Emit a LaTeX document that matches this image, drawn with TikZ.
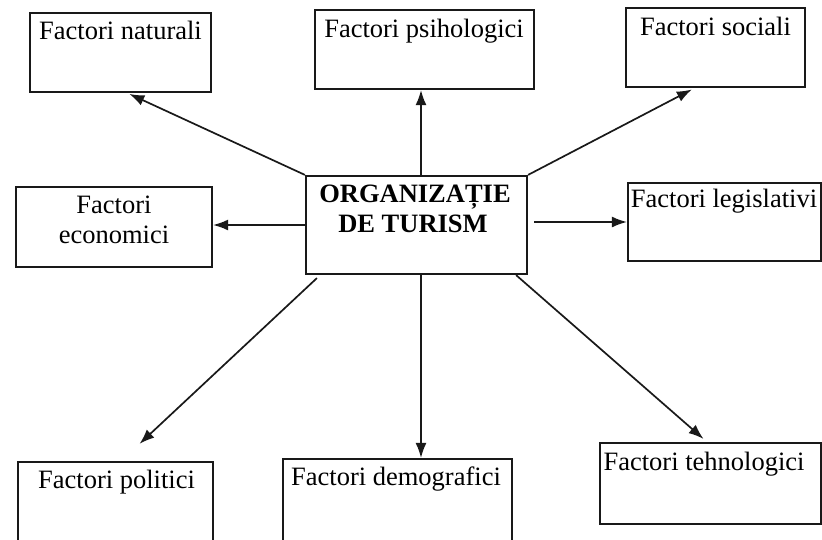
\documentclass[tikz,border=0pt]{standalone}
\usepackage{fontspec}
\setmainfont{Liberation Serif}
\usetikzlibrary{arrows.meta}
\begin{document}
\begin{tikzpicture}[x=1pt,y=-1pt,
  fbox/.style={draw=black!90, line width=2.2pt, rectangle, inner sep=0pt},
  lbl/.style={inner sep=0pt, anchor=base, font=\fontsize{26.5}{30}\selectfont},
  arr/.style={draw=black!90, line width=1.7pt, -{Latex[length=15pt,width=11pt]}}]
\useasboundingbox (0,0) rectangle (822,539);
% boxes
\node[fbox, minimum width=181pt, minimum height=79pt] (nat) at (120.5,52.5) {};
\node[fbox, minimum width=219pt, minimum height=79pt] (psi) at (424.5,49.5) {};
\node[fbox, minimum width=179pt, minimum height=79pt] (soc) at (715.5,47.5) {};
\node[fbox, minimum width=196pt, minimum height=80pt] (eco) at (114,227) {};
\node[fbox, minimum width=221pt, minimum height=98pt] (c) at (416.5,225) {};
\node[fbox, minimum width=193pt, minimum height=78pt] (leg) at (724.5,222) {};
\node[fbox, minimum width=195pt, minimum height=83pt] (pol) at (115.5,503.5) {};
\node[fbox, minimum width=229pt, minimum height=86pt] (dem) at (397.5,502) {};
\node[fbox, minimum width=221pt, minimum height=81pt] (teh) at (710.5,483.5) {};
% labels
\node[lbl] (natt) at (120.5,39) {Factori naturali};
\node[lbl] (psit) at (424,37) {Factori psihologici};
\node[lbl] (soct) at (715.5,35) {Factori sociali};
\node[lbl] (ecot1) at (114,213) {Factori};
\node[lbl] (ecot2) at (114,243) {economici};
\node[lbl, font=\fontsize{26.5}{30}\selectfont\bfseries] (ct1) at (415,202) {ORGANIZAȚIE};
\node[lbl, font=\fontsize{26.5}{30}\selectfont\bfseries] (ct2) at (413,232) {DE TURISM};
\node[lbl] (legt) at (724,207) {Factori legislativi};
\node[lbl] (polt) at (116.5,488) {Factori politici};
\node[lbl] (demt) at (396,485) {Factori demografici};
\node[lbl] (teht) at (704,470) {Factori tehnologici};
% arrows
\draw[arr, shorten >=2pt] (c.north west) -- ([xshift=7pt]nat.south);
\draw[arr] ([xshift=4.5pt]c.north) -- ([xshift=4.5pt]c.north |- psi.south);
\draw[arr, shorten >=3pt] (c.north east) -- ([xshift=-21pt]soc.south);
\draw[arr] (c.west) -- (c.west -| eco.east);
\draw[arr] ([xshift=6pt]c.east |- leg.west) -- (leg.west);
\draw[arr] ([xshift=12pt,yshift=-3pt]c.south west) -- ([xshift=24pt,yshift=17pt]pol.north);
\draw[arr] ([xshift=4.5pt]c.south) -- ([xshift=4.5pt]c.south |- dem.north);
\draw[arr] ([xshift=-12pt]c.south east) -- ([xshift=-7pt,yshift=3pt]teh.north);
\end{tikzpicture}
\end{document}
